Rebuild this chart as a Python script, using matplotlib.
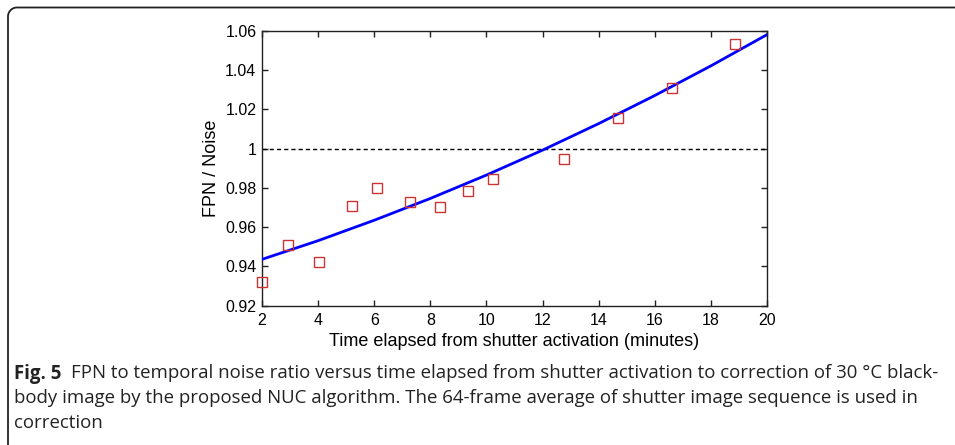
import numpy as np
import matplotlib
matplotlib.use('Agg')
import matplotlib.pyplot as plt
from matplotlib import font_manager

# ---------------- data ----------------
time_min = [2.0, 2.92, 4.03, 5.2, 6.09, 7.26, 8.34, 9.35, 10.22, 12.75, 14.7, 16.6, 18.85]
fpn_noise = [0.932, 0.951, 0.942, 0.971, 0.980, 0.973, 0.970, 0.9785, 0.9845,
             0.9947, 1.0154, 1.0308, 1.0534]
fit_time = [2, 4, 6, 8, 10, 12, 14, 16, 18, 20]
fit_values = [0.9436, 0.9531, 0.9635, 0.9746, 0.9865, 0.9992, 1.0127, 1.0270, 1.0421, 1.0580]
reference_level = 1.0
x_ticks = [2, 4, 6, 8, 10, 12, 14, 16, 18, 20]
y_ticks = [0.92, 0.94, 0.96, 0.98, 1.00, 1.02, 1.04, 1.06]
y_tick_labels = ['0.92', '0.94', '0.96', '0.98', '1', '1.02', '1.04', '1.06']
x_label = 'Time elapsed from shutter activation (minutes)'
y_label = 'FPN / Noise'
caption_bold = 'Fig. 5'
caption_lines = [
    'FPN to temporal noise ratio versus time elapsed from shutter activation to correction of 30 \u00b0C black-',
    'body image by the proposed NUC algorithm. The 64-frame average of shutter image sequence is used in',
    'correction',
]


def has_font(name):
    try:
        font_manager.findfont(font_manager.FontProperties(family=name),
                              fallback_to_default=False)
        return True
    except Exception:
        return False


plot_font = 'Liberation Sans' if has_font('Liberation Sans') else 'DejaVu Sans'
cap_font = 'Liberation Sans Narrow' if has_font('Liberation Sans Narrow') else 'Open Sans'

W, H = 955, 445
fig = plt.figure(figsize=(W / 100, H / 100), dpi=100)
fig.patch.set_facecolor('white')

# ---------------- main axes ----------------
x0, x1, y0, y1 = 262, 767, 30.7, 305.7
ax = fig.add_axes([x0 / W, 1 - y1 / H, (x1 - x0) / W, (y1 - y0) / H])
ax.plot(fit_time, fit_values, color='#0000ff', lw=2.0, zorder=3)
ax.plot(time_min, fpn_noise, linestyle='none', marker='s', markersize=7.2,
        markerfacecolor='none', markeredgecolor='#cc3333', markeredgewidth=1.0,
        zorder=4, clip_on=False)
ax.axhline(reference_level, color='black', lw=1.0, dashes=(3, 2.2), zorder=2)

ax.set_xlim(2, 20)
ax.set_ylim(0.92, 1.06)
ax.set_xticks(x_ticks)
ax.set_xticklabels([str(t) for t in x_ticks])
ax.set_yticks(y_ticks)
ax.set_yticklabels(y_tick_labels)
ax.tick_params(direction='in', length=4.3, width=1.0, top=True, right=True,
               labelsize=11.5, pad=4, colors='#222222', labelcolor='black')
ax.tick_params(axis='x', pad=5.5)
for lab in ax.get_xticklabels() + ax.get_yticklabels():
    lab.set_family(plot_font)
for sp in ax.spines.values():
    sp.set_color('#222222')
    sp.set_linewidth(1.0)
ax.set_xlabel(x_label, fontsize=13, family=plot_font, labelpad=3)
ax.set_ylabel(y_label, fontsize=13, family=plot_font, labelpad=4)

# ---------------- overlay: border + caption ----------------
ov = fig.add_axes([0, 0, 1, 1], zorder=-1)
ov.set_xlim(0, W)
ov.set_ylim(H, 0)
ov.axis('off')
r = 9
bx, by = 8, 7.5
th = np.linspace(np.pi, 1.5 * np.pi, 20)
arc_x = bx + r + r * np.cos(th)
arc_y = by + r + r * np.sin(th)
path_x = np.concatenate([[bx], arc_x, [W + 2]])
path_y = np.concatenate([[H + 2], arc_y, [by]])
ov.plot(path_x, path_y, color='#222222', lw=1.3, solid_capstyle='butt')

fig.canvas.draw()
renderer = fig.canvas.get_renderer()

left = 14
target_w = 930 - left
fs = 12.0
baselines = [378.5, 403, 427.5]


def build(fs):
    arts = []
    tb = ov.text(left, baselines[0], caption_bold, fontsize=fs, fontweight='bold',
                 family=[cap_font, 'DejaVu Sans'], va='baseline', ha='left', color='#222222')
    arts.append(tb)
    bw = tb.get_window_extent(renderer).width
    t1 = ov.text(left + bw + fs * 0.75, baselines[0], caption_lines[0], fontsize=fs,
                 family=[cap_font, 'DejaVu Sans'], va='baseline', ha='left', color='#222222')
    arts.append(t1)
    w = bw + fs * 0.75 + t1.get_window_extent(renderer).width
    for i in (1, 2):
        arts.append(ov.text(left, baselines[i], caption_lines[i], fontsize=fs,
                            family=[cap_font, 'DejaVu Sans'], va='baseline', ha='left',
                            color='#222222'))
    return arts, w


arts, w = build(fs)
for a in arts:
    a.remove()
fs = fs * target_w / w
arts, w = build(fs)

fig.savefig('out.png', dpi=100)
